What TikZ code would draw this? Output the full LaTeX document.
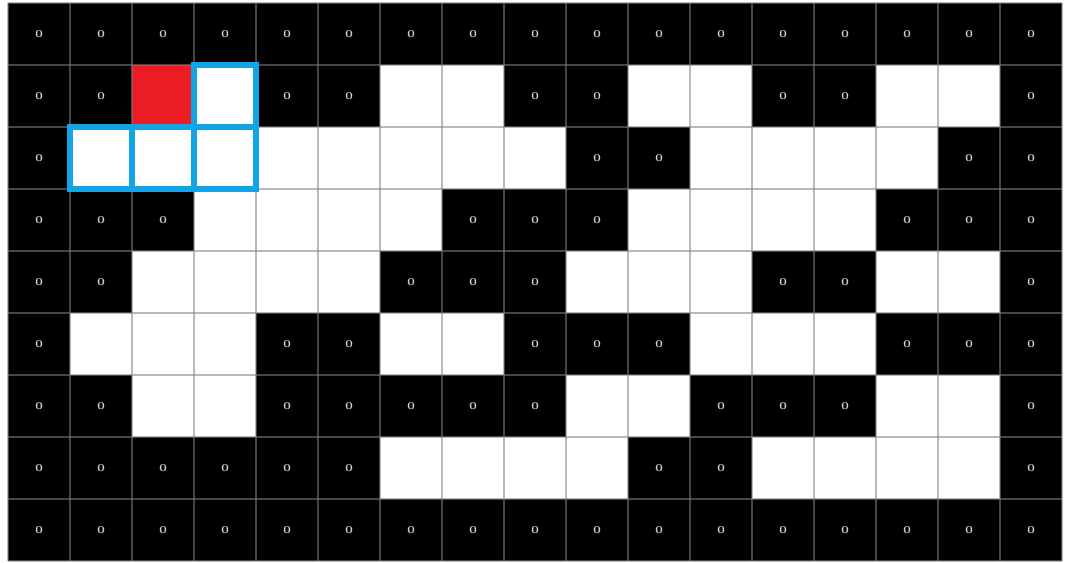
\documentclass[tikz,border=0pt]{standalone}
\usepackage{tikz}
\usetikzlibrary{calc}
\definecolor{pixred}{HTML}{EC1C24}
\definecolor{pixblue}{HTML}{12A4E4}
\definecolor{gridgray}{HTML}{808080}
\definecolor{zerogray}{HTML}{D0D0D0}

\begin{document}
\begin{tikzpicture}[x=0.62cm, y=-0.62cm,
    cell/.style={minimum size=0.62cm, inner sep=0pt, outer sep=0pt},
    cell0/.style={cell, fill=black, text=zerogray, font=\fontsize{3}{3.5}\selectfont\bfseries},
    cell1/.style={cell, fill=white},
    cell2/.style={cell, fill=pixred},
    gridline/.style={draw=gridgray, draw opacity=0.55, line width=0.35pt},
    frame/.style={draw=pixblue, line width=1.6pt}]
          \useasboundingbox (-0.129,-0.048) rectangle (17.048,9.032);

          % Celdas de la imagen binaria (0 negro, 1 blanco, 2 semilla)
          \foreach \row [count=\r from 0] in {
              {0,0,0,0,0,0,0,0,0,0,0,0,0,0,0,0,0},
              {0,0,2,1,0,0,1,1,0,0,1,1,0,0,1,1,0},
              {0,1,1,1,1,1,1,1,1,0,0,1,1,1,1,0,0},
              {0,0,0,1,1,1,1,0,0,0,1,1,1,1,0,0,0},
              {0,0,1,1,1,1,0,0,0,1,1,1,0,0,1,1,0},
              {0,1,1,1,0,0,1,1,0,0,0,1,1,1,0,0,0},
              {0,0,1,1,0,0,0,0,0,1,1,0,0,0,1,1,0},
              {0,0,0,0,0,0,1,1,1,1,0,0,1,1,1,1,0},
              {0,0,0,0,0,0,0,0,0,0,0,0,0,0,0,0,0}} {
            \foreach \v [count=\c from 0] in \row {
              \ifnum\v=0
                \node[cell0] (c-\r-\c) at (\c+0.5,\r+0.5) {0};
              \else
                \node[cell\v] (c-\r-\c) at (\c+0.5,\r+0.5) {};
              \fi
            }
          }

          % Rejilla
          \foreach \i in {0,...,17}
            \draw[gridline] (\i,0) -- (\i,9);
          \foreach \j in {0,...,9}
            \draw[gridline] (0,\j) -- (17,\j);

          % Vecinos marcados
          \foreach \r/\c in {1/3, 2/1, 2/2, 2/3}
            \draw[frame] (c-\r-\c.north west) rectangle (c-\r-\c.south east);
        \end{tikzpicture}
\end{document}
